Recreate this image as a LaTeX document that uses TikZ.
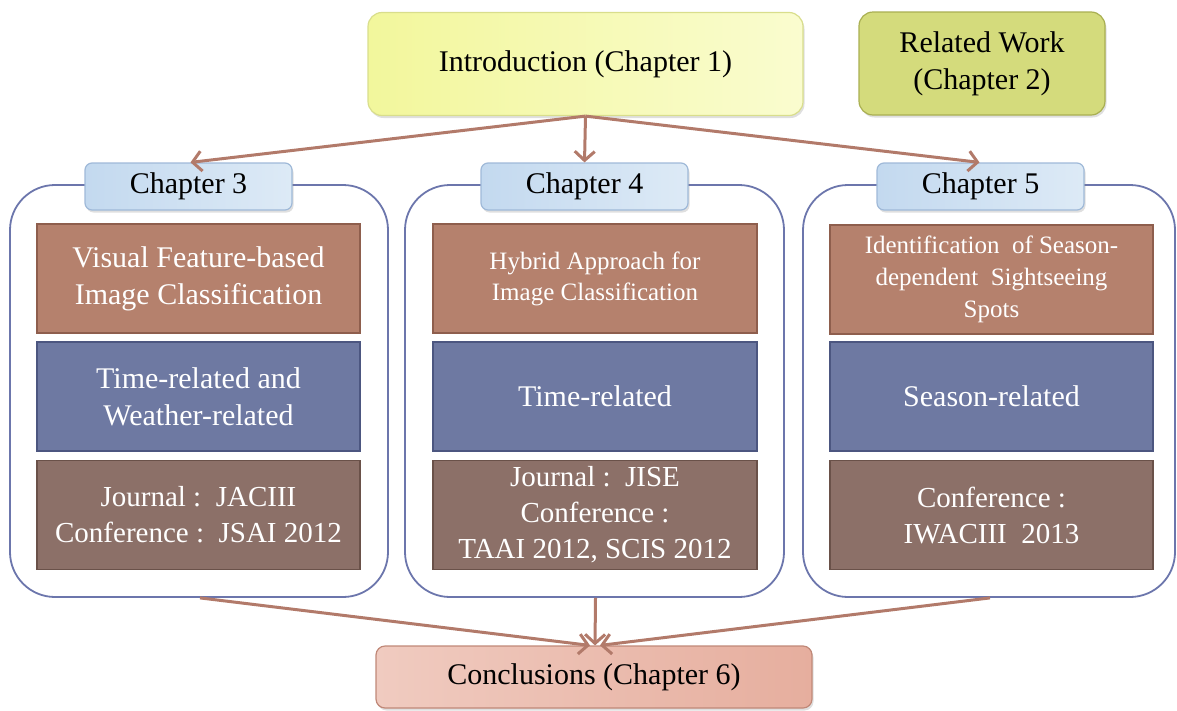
\documentclass[tikz,border=0pt]{standalone}
\usepackage{fontspec}
\setmainfont{Liberation Serif}
\usetikzlibrary{arrows.meta,shadows}

\definecolor{introfill}{HTML}{F2F79C}
\definecolor{introlight}{HTML}{FAFCCF}
\definecolor{introedge}{HTML}{D9DE8C}
\definecolor{relfill}{HTML}{D4DB7C}
\definecolor{reledge}{HTML}{A9AF52}
\definecolor{tabfill}{HTML}{C3D9EF}
\definecolor{tablight}{HTML}{DDEAF6}
\definecolor{tabedge}{HTML}{9FB9D8}
\definecolor{frameedge}{HTML}{6C76AC}
\definecolor{topicfill}{HTML}{B5816D}
\definecolor{topicedge}{HTML}{8E5E4D}
\definecolor{aspectfill}{HTML}{6E79A2}
\definecolor{aspectedge}{HTML}{4C5680}
\definecolor{pubfill}{HTML}{8C7068}
\definecolor{pubedge}{HTML}{6A5149}
\definecolor{conclfill}{HTML}{E6AE9E}
\definecolor{concllight}{HTML}{F0CBC0}
\definecolor{concledge}{HTML}{C08878}
\definecolor{flow}{HTML}{B27A6A}

\tikzset{
  softshadow/.style={drop shadow={opacity=0.25,shadow xshift=1.5pt,shadow yshift=-2.5pt}},
  topbox/.style={rounded corners=14pt,line width=1.2pt,align=center,font=\fontsize{30}{37}\selectfont,softshadow},
  tabbox/.style={rounded corners=7pt,draw=tabedge,line width=1.2pt,left color=tabfill,right color=tablight,
    minimum width=207pt,minimum height=47pt,font=\fontsize{30}{32}\selectfont,softshadow},
  frame/.style={rounded corners=45pt,draw=frameedge,line width=1.8pt,minimum height=412pt},
  cell/.style={line width=1.2pt,minimum height=109pt,text=white,align=center},
  topic/.style={cell,fill=topicfill,draw=topicedge},
  aspect/.style={cell,fill=aspectfill,draw=aspectedge,font=\fontsize{30}{37}\selectfont},
  pub/.style={cell,fill=pubfill,draw=pubedge,font=\fontsize{29}{36}\selectfont},
  flowarrow/.style={draw=flow,line width=3pt,-{Straight Barb[length=9pt,width=20pt,line width=3pt]}}
}

\begin{document}
\begin{tikzpicture}[x=1pt,y=-1pt]
\useasboundingbox (0,0) rectangle (1177,710);

% top row
\node[topbox,draw=introedge,left color=introfill,right color=introlight,
  minimum width=435pt,minimum height=103pt] (intro) at (585.5,64) {Introduction (Chapter 1)};
\node[topbox,draw=reledge,fill=relfill,
  minimum width=246pt,minimum height=103pt] (related) at (982,63.5) {Related Work\\(Chapter 2)};

% chapter frames
\node[frame,minimum width=378pt] (f3) at (199,391) {};
\node[frame,minimum width=379pt] (f4) at (594.5,391) {};
\node[frame,minimum width=372pt] (f5) at (989,391) {};

% chapter tabs
\node[tabbox] (c3) at (188.5,186.5) {Chapter 3};
\node[tabbox] (c4) at (584.5,186.5) {Chapter 4};
\node[tabbox] (c5) at (980.5,186.5) {Chapter 5};

% chapter 3 contents
\node[topic,minimum width=323pt,font=\fontsize{30}{37}\selectfont] (t3) at (198.5,278.5) {Visual Feature-based\\Image Classification};
\node[aspect,minimum width=323pt] (a3) at (198.5,396.5) {Time-related and\\Weather-related};
\node[pub,minimum width=323pt] (p3) at (198.5,515) {Journal :\ \ JACIII\\Conference :\ \ JSAI 2012};

% chapter 4 contents
\node[topic,minimum width=324pt,font=\fontsize{25}{31}\selectfont] (t4) at (595,278.5) {Hybrid Approach for\\Image Classification};
\node[aspect,minimum width=324pt] (a4) at (595,396.5) {Time-related};
\node[pub,minimum width=324pt] (p4) at (595,515) {Journal :\ \ JISE\\Conference :\\TAAI 2012, SCIS 2012};

% chapter 5 contents
\node[topic,minimum width=323pt,font=\fontsize{25}{32}\selectfont] (t5) at (991.5,279.5) {Identification\ \ of\ Season-\\dependent\ \ Sightseeing\\Spots};
\node[aspect,minimum width=323pt] (a5) at (991.5,396.5) {Season-related};
\node[pub,minimum width=323pt] (p5) at (991.5,515) {Conference :\\IWACIII\ \ 2013};

% conclusions
\node[rounded corners=9pt,draw=concledge,line width=1.2pt,left color=concllight,right color=conclfill,
  minimum width=436pt,minimum height=62pt,font=\fontsize{30}{32}\selectfont,softshadow] (concl) at (594,677) {Conclusions (Chapter 6)};

% flow from the introduction to the chapters
\draw[flowarrow] (intro.south) -- ([xshift=2pt]c3.north);
\draw[flowarrow] (intro.south) -- (c4.north);
\draw[flowarrow] (intro.south) -- ([xshift=-1pt]c5.north);

% flow from the chapters to the conclusions
\draw[flowarrow] ([xshift=1pt]f3.south) -- ([xshift=-4pt]concl.north);
\draw[flowarrow] ([xshift=1pt]f4.south) -- ([xshift=1pt]concl.north);
\draw[flowarrow] ([xshift=1pt]f5.south) -- ([xshift=6pt]concl.north);
\end{tikzpicture}
\end{document}
